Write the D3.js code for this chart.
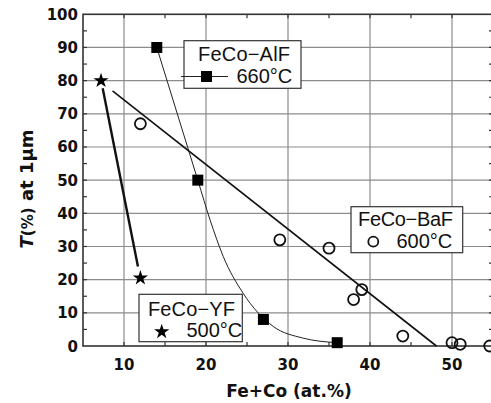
<!DOCTYPE html>
<html>
<head>
<meta charset="utf-8">
<script src="https://cdn.jsdelivr.net/npm/d3@7"></script>
<style>
  body { margin: 0; background: #fff; }
  svg { display: block; }
  .tick-label { font-family: "DejaVu Sans", sans-serif; font-weight: bold; font-size: 15px; fill: #111; }
  .legend-text { font-family: "Liberation Sans", Arial, sans-serif; font-size: 20px; fill: #111; }
  .axis-title { font-family: "DejaVu Sans", sans-serif; font-weight: bold; fill: #111; }
</style>
</head>
<body>
<div class="chart"></div>
<script>

////////// DATA //////////

// FeCo-YF, 500°C (stars)
var yfX = [7.2, 12];
var yfY = [80, 20.5];
var yfLine = [[7.4, 77.7], [11.7, 24]];

// FeCo-AlF, 660°C (squares) + guide curve
var alfX = [14, 19, 27, 36];
var alfY = [90, 50, 8, 1];
var alfCurve = [[14, 90], [19, 50], [20.5, 38], [22.1, 27], [24.5, 16], [28.2, 5.9], [31.8, 2.4], [36, 1]];

// FeCo-BaF, 600°C (open circles) + straight fit
var bafX = [12, 29, 35, 38, 39, 44, 50, 51, 54.6];
var bafY = [67, 32, 29.5, 14, 17, 3, 1, 0.5, 0];
var bafLine = [[8.6, 76.9], [48.1, 0]];

var xTicks = [10, 20, 30, 40, 50];
var yTicks = [0, 10, 20, 30, 40, 50, 60, 70, 80, 90, 100];


////////// SETUP //////////

var width = 491, height = 403;

var x = d3.scaleLinear().domain([5, 55]).range([83, 493]);
var y = d3.scaleLinear().domain([0, 100]).range([346, 14.3]);

var svg = d3.select(".chart")
    .append("svg")
    .attr("width", width)
    .attr("height", height);

var line = d3.line()
    .x(function(d) { return x(d[0]); })
    .y(function(d) { return y(d[1]); });


////////// GRID + FRAME //////////

var grid = svg.append("g").attr("class", "grid");

grid.selectAll(".gx")
    .data(xTicks)
    .enter()
    .append("line")
    .attr("x1", x).attr("x2", x)
    .attr("y1", y(0)).attr("y2", y(100))
    .style("stroke", "#8c8c8c").style("stroke-width", 1.2);

grid.selectAll(".gy")
    .data(yTicks.slice(1, -1))
    .enter()
    .append("line")
    .attr("x1", x(5)).attr("x2", x(55))
    .attr("y1", y).attr("y2", y)
    .style("stroke", "#8c8c8c").style("stroke-width", 1.2);

// minor ticks, inside on all four sides
var minorX = d3.range(10, 55, 5);
var minorY = d3.range(5, 100, 5);

var ticks = svg.append("g").attr("class", "ticks").style("stroke", "#333").style("stroke-width", 1.2);

minorX.forEach(function(v) {
  ticks.append("line").attr("x1", x(v)).attr("x2", x(v)).attr("y1", y(0)).attr("y2", y(0) - 4);
  ticks.append("line").attr("x1", x(v)).attr("x2", x(v)).attr("y1", y(100)).attr("y2", y(100) + 4);
});
minorY.forEach(function(v) {
  ticks.append("line").attr("x1", x(5)).attr("x2", x(5) + 4).attr("y1", y(v)).attr("y2", y(v));
  ticks.append("line").attr("x1", x(55)).attr("x2", x(55) - 4).attr("y1", y(v)).attr("y2", y(v));
});

svg.append("rect")
    .attr("x", x(5)).attr("y", y(100))
    .attr("width", x(55) - x(5)).attr("height", y(0) - y(100))
    .style("fill", "none").style("stroke", "#333").style("stroke-width", 1.6);


////////// TICK LABELS //////////

svg.append("g").selectAll("text")
    .data(yTicks)
    .enter()
    .append("text")
    .attr("class", "tick-label")
    .attr("x", 78)
    .attr("y", function(d) { return y(d) + 5.5; })
    .attr("text-anchor", "end")
    .text(function(d) { return d; });

svg.append("g").selectAll("text")
    .data(xTicks)
    .enter()
    .append("text")
    .attr("class", "tick-label")
    .attr("x", x)
    .attr("y", 370)
    .attr("text-anchor", "middle")
    .text(function(d) { return d; });


////////// AXIS TITLES //////////

svg.append("text")
    .attr("class", "axis-title")
    .attr("x", 289).attr("y", 397)
    .attr("text-anchor", "middle")
    .style("font-size", "17px")
    .text("Fe+Co (at.%)");

var yTitle = svg.append("text")
    .attr("class", "axis-title")
    .attr("transform", "translate(33,189) rotate(-90)")
    .attr("text-anchor", "middle")
    .style("font-size", "18px");
yTitle.append("tspan").style("font-style", "italic").text("T");
yTitle.append("tspan").style("font-size", "15px").text("(%)");
yTitle.append("tspan").text(" at 1μm");


////////// FIT LINES //////////

var plot = svg.append("g").attr("class", "plot");

plot.append("path")
    .datum(alfCurve)
    .attr("d", line.curve(d3.curveMonotoneX))
    .style("fill", "none").style("stroke", "#222").style("stroke-width", 1);

line.curve(d3.curveLinear);

plot.append("path")
    .datum(bafLine)
    .attr("d", line)
    .style("fill", "none").style("stroke", "#111").style("stroke-width", 1.6);

plot.append("path")
    .datum(yfLine)
    .attr("d", line)
    .style("fill", "none").style("stroke", "#111").style("stroke-width", 2.4);


////////// MARKERS //////////

var star = d3.symbol().type(d3.symbolStar).size(72);
var square = d3.symbol().type(d3.symbolSquare).size(121);

plot.selectAll(".baf")
    .data(bafX)
    .enter()
    .append("circle")
    .attr("cx", function(d) { return x(d); })
    .attr("cy", function(d, i) { return y(bafY[i]); })
    .attr("r", 5.5)
    .style("fill", "none").style("stroke", "#111").style("stroke-width", 1.8);

plot.selectAll(".alf")
    .data(alfX)
    .enter()
    .append("path")
    .attr("d", square)
    .attr("transform", function(d, i) { return "translate(" + x(d) + "," + y(alfY[i]) + ")"; })
    .style("fill", "#000");

plot.selectAll(".yf")
    .data(yfX)
    .enter()
    .append("path")
    .attr("d", star)
    .attr("transform", function(d, i) { return "translate(" + x(d) + "," + y(yfY[i]) + ")"; })
    .style("fill", "#000");


////////// LEGENDS //////////

function legendBox(x0, y0, w, h) {
  svg.append("rect")
      .attr("x", x0).attr("y", y0).attr("width", w).attr("height", h)
      .style("fill", "#fff").style("stroke", "#333").style("stroke-width", 1.2);
}

function legendText(x0, y0, txt, len) {
  var t = svg.append("text").attr("class", "legend-text").attr("x", x0).attr("y", y0).text(txt);
  if (len) t.attr("textLength", len).attr("lengthAdjust", "spacing");
}

// FeCo-AlF
legendBox(184, 40.7, 117, 47.6);
svg.append("line")
    .attr("x1", 181).attr("x2", 228).attr("y1", 76.5).attr("y2", 76.5)
    .style("stroke", "#222").style("stroke-width", 1.2);
svg.append("path").attr("d", square).attr("transform", "translate(206.5,76.5)").style("fill", "#000");
legendText(198, 61, "FeCo−AlF", 92);
legendText(236.5, 83, "660°C");

// FeCo-BaF
legendBox(351, 206.7, 111.7, 46);
svg.append("circle").attr("cx", 373.3).attr("cy", 241.7).attr("r", 5)
    .style("fill", "none").style("stroke", "#111").style("stroke-width", 1.8);
legendText(358, 226, "FeCo−BaF", 95);
legendText(396.5, 248, "600°C");

// FeCo-YF
legendBox(139, 294.3, 103.3, 47.4);
svg.append("path").attr("d", star).attr("transform", "translate(161.7,331.7)").style("fill", "#000");
legendText(148, 316, "FeCo−YF", 87);
legendText(186.5, 337, "500°C");

</script>
</body>
</html>
